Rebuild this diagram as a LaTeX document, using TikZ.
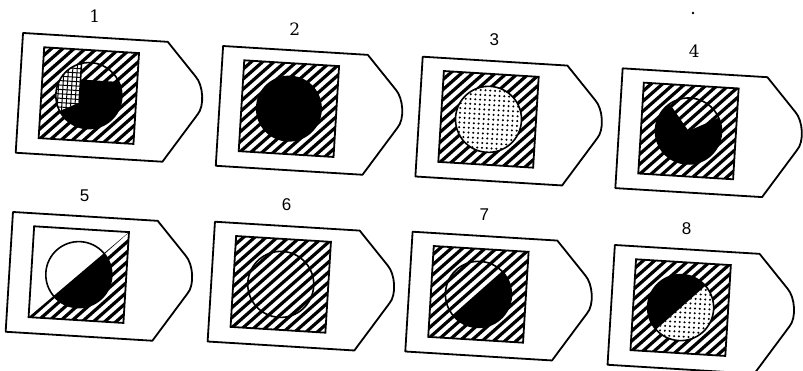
\documentclass[tikz,border=0pt]{standalone}
\usepackage{fontspec}
\newfontfamily\labelsans{Liberation Sans}
\newfontfamily\labelserif{DejaVu Serif}
\usetikzlibrary{calc}

\tikzset{
  tagline/.style={line width=1.8pt, line join=round},
  boxline/.style={line width=1.8pt},
  ringline/.style={line width=1.6pt},
  hatchline/.style={line width=3.2pt},
  numlabel/.style={font=\fontsize{17}{20}\selectfont},
}

% outline of one tag with its number, centred on the circle
\newcommand{\tagframe}[2]{%
  \draw[tagline] (-69.5,58.5) -- (75.5,58.5) -- (105.5,25.5)
    .. controls (113.5,17.5) and (116.5,-3.5) .. (109.5,-12.5)
    -- (77.5,-61.5) -- (-69.5,-61.5) -- cycle;
  \node[numlabel] (num#1) at (1,79.5) {#2};}
\newcommand{\stripes}{\foreach \i in {-10,...,10} \draw[hatchline] (\i*10.6-80,-80) -- (\i*10.6+80,80);}
\newcommand{\hatchbox}{%
  \begin{scope}\clip (-47.5,-45.5) rectangle (47.5,45.5); \stripes \end{scope}
  \draw[boxline] (-47.5,-45.5) rectangle (47.5,45.5);}
\newcommand{\dotfield}{\foreach \i in {-7,...,7} \foreach \j in {-7,...,7} \fill (\i*4.8,\j*4.8) circle (1.15pt);}
\newcommand{\gridfield}{\foreach \i in {-8,...,8} {\draw[line width=1pt] (\i*4.4,-36) -- (\i*4.4,36); \draw[line width=1pt] (-36,\i*4.4) -- (36,\i*4.4);}}

\begin{document}
\begin{tikzpicture}[x=1pt,y=1pt]
  \useasboundingbox (0,0) rectangle (803,-370);
  \fill (693,-13) circle (1.3pt);
  \begin{scope}[rotate=-3.5]
    % 1
    \begin{scope}[shift={(94.5,-90)}]
      \tagframe{1}{\labelserif 1}
      \hatchbox
      \begin{scope}
        \clip (-9.2,-7.6) -- (106.3:33) arc[start angle=106.3,end angle=211.5,radius=33] -- cycle;
        \fill[white] (-40,-40) rectangle (40,40);
        \gridfield
      \end{scope}
      \fill (-9.2,-7.6) -- (211.5:33) arc[start angle=211.5,end angle=388,radius=33] -- (-9.2,15.5) -- cycle;
      \draw[ringline] (-9.2,-7.6) -- (106.3:33);
      \draw[ringline] (0,0) circle (33);
    \end{scope}
    % 2
    \begin{scope}[shift={(295,-90.8)}]
      \tagframe{2}{\labelserif 2}
      \hatchbox
      \fill (0,0) circle (33);
    \end{scope}
    % 3
    \begin{scope}[shift={(494.9,-89.3)}]
      \tagframe{3}{\labelsans 3}
      \hatchbox
      \fill[white] (0,0) circle (33);
      \begin{scope}\clip (0,0) circle (33); \dotfield \end{scope}
      \draw[ringline] (0,0) circle (33);
    \end{scope}
    % 4
    \begin{scope}[shift={(695.2,-88.7)}]
      \tagframe{4}{\labelserif 4}
      \hatchbox
      \fill (0,0) -- (128:33) arc[start angle=128,end angle=387,radius=33] -- cycle;
      \draw[ringline] (0,0) circle (33);
    \end{scope}
    % 5
    \begin{scope}[shift={(95.4,-269.3)}]
      \tagframe{5}{\labelsans 5}
      \begin{scope}\clip (-47.5,-45.5) -- (47.5,-45.5) -- (47.5,45.5) -- cycle; \stripes \end{scope}
      \draw[boxline] (-47.5,-45.5) rectangle (47.5,45.5);
      \fill[white] (0,0) circle (33);
      \fill (-136.2:33) arc[start angle=-136.2,end angle=43.8,radius=33] -- cycle;
      \draw[ringline] (0,0) circle (33);
    \end{scope}
    % 6
    \begin{scope}[shift={(297.6,-266.7)}]
      \tagframe{6}{\labelsans 6}
      \hatchbox
      \draw[ringline] (0,0) circle (33);
    \end{scope}
    % 7
    \begin{scope}[shift={(495.5,-264.6)}]
      \tagframe{7}{\labelsans 7}
      \hatchbox
      \fill (-135:33) arc[start angle=-135,end angle=45,radius=33] -- cycle;
      \draw[ringline] (0,0) circle (33);
    \end{scope}
    % 8
    \begin{scope}[shift={(698.2,-265.5)}]
      \tagframe{8}{\labelsans 8}
      \hatchbox
      \fill[white] (0,0) circle (33);
      \begin{scope}\clip (-135:33) arc[start angle=-135,end angle=45,radius=33] -- cycle; \dotfield \end{scope}
      \fill (45:33) arc[start angle=45,end angle=225,radius=33] -- cycle;
      \draw[ringline] (0,0) circle (33);
    \end{scope}
  \end{scope}
\end{tikzpicture}
\end{document}
